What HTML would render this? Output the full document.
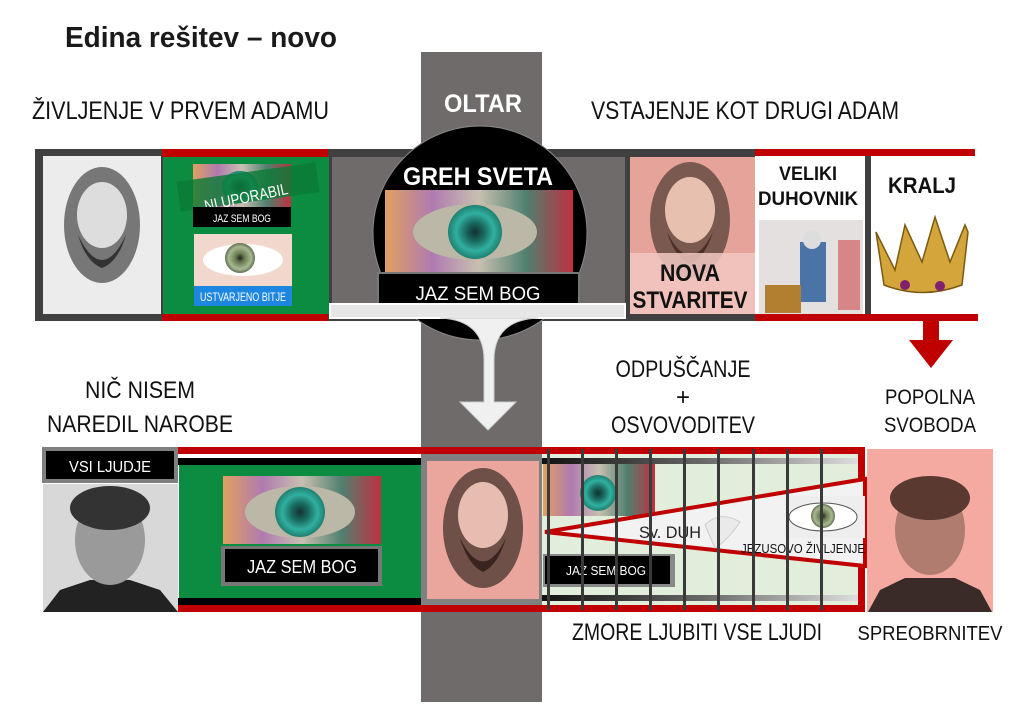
<!DOCTYPE html>
<html><head><meta charset="utf-8"><style>
html,body{margin:0;padding:0;background:#fff;}
svg{display:block;}
text{font-family:"Liberation Sans Narrow","Liberation Sans",sans-serif;}
</style></head><body>
<svg width="1034" height="713" viewBox="0 0 1034 713" xmlns="http://www.w3.org/2000/svg">
<defs>
<linearGradient id="eyeg" x1="0" y1="0" x2="1" y2="0">
<stop offset="0" stop-color="#e0a060"/><stop offset="0.25" stop-color="#b07ab0"/><stop offset="0.5" stop-color="#c8c0b0"/><stop offset="0.75" stop-color="#508070"/><stop offset="1" stop-color="#c03040"/></linearGradient>
<radialGradient id="teal"><stop offset="0" stop-color="#103030"/><stop offset="0.35" stop-color="#1a6a60"/><stop offset="0.7" stop-color="#30b0a0"/><stop offset="1" stop-color="#208070"/></radialGradient>
<radialGradient id="green"><stop offset="0" stop-color="#202020"/><stop offset="0.3" stop-color="#6a7a50"/><stop offset="0.75" stop-color="#a8b890"/><stop offset="1" stop-color="#607050"/></radialGradient>
<linearGradient id="barg" x1="0" x2="1"><stop offset="0" stop-color="#111"/><stop offset="0.5" stop-color="#666"/><stop offset="1" stop-color="#ddd"/></linearGradient>
</defs>

<text x="65" y="47" font-family="Liberation Sans" font-size="29" font-weight="bold" fill="#1a1a1a" textLength="272" lengthAdjust="spacingAndGlyphs">Edina rešitev – novo</text>

<rect x="421" y="52" width="121" height="650" fill="#6f6b6a"/>
<text x="483" y="112" font-size="25" font-weight="bold" fill="#fff" text-anchor="middle" textLength="78" lengthAdjust="spacingAndGlyphs">OLTAR</text>

<text x="32" y="119" font-size="25" fill="#111" textLength="297" lengthAdjust="spacingAndGlyphs">ŽIVLJENJE V PRVEM ADAMU</text>
<text x="591" y="119" font-size="25" fill="#111" textLength="308" lengthAdjust="spacingAndGlyphs">VSTAJENJE KOT DRUGI ADAM</text>

<rect x="35" y="149" width="595" height="172" fill="#404040"/>
<rect x="332" y="157" width="89" height="157" fill="#6f6b6a"/>
<rect x="542" y="157" width="83" height="157" fill="#6f6b6a"/>
<rect x="43" y="156" width="118" height="158" fill="#ececec"/>
<ellipse cx="102" cy="225" rx="38" ry="58" fill="#777"/>
<ellipse cx="102" cy="215" rx="25" ry="33" fill="#ddd"/>
<path d="M78 235 Q102 285 126 235 Q118 262 102 268 Q86 262 78 235Z" fill="#333"/>
<rect x="162" y="149" width="166" height="8" fill="#c00000"/>
<rect x="162" y="314" width="166" height="7" fill="#c00000"/>
<rect x="163" y="157" width="166" height="157" fill="#0b8c41"/>
<rect x="193" y="164" width="98" height="46" fill="url(#eyeg)"/>
<ellipse cx="240" cy="187" rx="18" ry="16" fill="url(#teal)"/>
<rect x="178" y="172" width="140" height="30" fill="#0a7a36" opacity="0.8" transform="rotate(-8 248 187)"/>
<text x="203" y="204" font-size="16" fill="#fff" transform="rotate(-12 240 195)" textLength="85" lengthAdjust="spacingAndGlyphs">NI UPORABIL</text>
<rect x="193" y="207" width="98" height="20" fill="#000"/>
<text x="242" y="222" font-size="11" fill="#fff" text-anchor="middle" textLength="58" lengthAdjust="spacingAndGlyphs">JAZ SEM BOG</text>
<rect x="194" y="234" width="98" height="52" fill="#f2d8cc"/>
<ellipse cx="243" cy="260" rx="40" ry="16" fill="#fff"/>
<circle cx="240" cy="258" r="15" fill="url(#green)"/>
<rect x="194" y="286" width="98" height="20" fill="#1c86e0"/>
<text x="243" y="301" font-size="12" fill="#fff" text-anchor="middle" textLength="86" lengthAdjust="spacingAndGlyphs">USTVARJENO  BITJE</text>

<rect x="625" y="149" width="132" height="172" fill="#404040"/>
<rect x="630" y="157" width="125" height="157" fill="#e6a39a"/>
<ellipse cx="690" cy="220" rx="40" ry="58" fill="#7a5a50"/>
<ellipse cx="690" cy="210" rx="25" ry="33" fill="#e8c0b0"/>
<path d="M667 232 Q690 278 713 232 Q705 258 690 264 Q675 258 667 232Z" fill="#4a3028"/>
<rect x="630" y="253" width="125" height="61" fill="#f2c8c2" opacity="0.85"/>
<text x="690" y="281" font-size="24" font-weight="bold" fill="#111" text-anchor="middle" textLength="60" lengthAdjust="spacingAndGlyphs">NOVA</text>
<text x="690" y="308" font-size="24" font-weight="bold" fill="#111" text-anchor="middle" textLength="115" lengthAdjust="spacingAndGlyphs">STVARITEV</text>
<rect x="755" y="149" width="220" height="7" fill="#c00000"/>
<rect x="755" y="314" width="223" height="7" fill="#c00000"/>
<rect x="755" y="156" width="110" height="158" fill="#fff"/>
<rect x="865" y="156" width="6" height="158" fill="#404040"/>
<text x="808" y="180" font-size="19" font-weight="bold" fill="#111" text-anchor="middle" textLength="58" lengthAdjust="spacingAndGlyphs">VELIKI</text>
<text x="808" y="205" font-size="19" font-weight="bold" fill="#111" text-anchor="middle" textLength="100" lengthAdjust="spacingAndGlyphs">DUHOVNIK</text>
<rect x="759" y="220" width="104" height="94" fill="#e4e0e0"/>
<rect x="838" y="240" width="22" height="70" fill="#d06060" opacity="0.7"/>
<rect x="800" y="242" width="26" height="60" fill="#4a74a8"/>
<circle cx="812" cy="240" r="9" fill="#ddd"/>
<rect x="765" y="285" width="36" height="28" fill="#b08030"/>
<text x="922" y="193" font-size="22" font-weight="bold" fill="#111" text-anchor="middle" textLength="68" lengthAdjust="spacingAndGlyphs">KRALJ</text>
<path d="M876 232 L895 270 L905 225 L922 262 L935 217 L950 262 L965 225 L968 232 L962 285 Q922 300 884 285Z" fill="#d4a53a" stroke="#7a5a10" stroke-width="1.5"/>
<circle cx="905" cy="285" r="5" fill="#802070"/><circle cx="940" cy="286" r="5" fill="#802070"/>

<rect x="923" y="321" width="16" height="20" fill="#c00000"/>
<path d="M909 340 L953 340 L931 368Z" fill="#c00000"/>

<circle cx="480" cy="233" r="107" fill="#000" stroke="#888" stroke-width="1"/>
<text x="478" y="185" font-size="25" font-weight="bold" fill="#fff" text-anchor="middle" textLength="150" lengthAdjust="spacingAndGlyphs">GREH SVETA</text>
<rect x="385" y="190" width="188" height="82" fill="url(#eyeg)"/>
<ellipse cx="475" cy="232" rx="62" ry="28" fill="#bbb8a8"/>
<circle cx="475" cy="232" r="27" fill="url(#teal)"/>
<rect x="378" y="273" width="201" height="33" fill="#000" stroke="#777" stroke-width="2"/>
<text x="478" y="300" font-size="19" fill="#fff" text-anchor="middle" textLength="125" lengthAdjust="spacingAndGlyphs">JAZ SEM BOG</text>

<rect x="330" y="304" width="295" height="14" fill="#e6e6e6" stroke="#fff" stroke-width="2"/>
<path d="M440 318 Q484 320 484 360 L484 402 L460 402 L488 430 L516 402 L494 402 L494 360 Q494 320 538 318Z" fill="#f0f0f0" stroke="#ccc" stroke-width="1"/>

<text x="140" y="398" font-size="24" fill="#111" text-anchor="middle" textLength="110" lengthAdjust="spacingAndGlyphs">NIČ NISEM</text>
<text x="140" y="432" font-size="24" fill="#111" text-anchor="middle" textLength="186" lengthAdjust="spacingAndGlyphs">NAREDIL NAROBE</text>
<text x="683" y="377" font-size="24" fill="#111" text-anchor="middle" textLength="135" lengthAdjust="spacingAndGlyphs">ODPUŠČANJE</text>
<text x="683" y="405" font-size="24" fill="#111" text-anchor="middle">+</text>
<text x="683" y="433" font-size="24" fill="#111" text-anchor="middle" textLength="144" lengthAdjust="spacingAndGlyphs">OSVOVODITEV</text>
<text x="930" y="404" font-size="21" fill="#111" text-anchor="middle" textLength="90" lengthAdjust="spacingAndGlyphs">POPOLNA</text>
<text x="930" y="432" font-size="21" fill="#111" text-anchor="middle" textLength="92" lengthAdjust="spacingAndGlyphs">SVOBODA</text>

<rect x="178" y="447" width="687" height="7" fill="#c00000"/>
<rect x="178" y="605" width="687" height="7" fill="#c00000"/>
<rect x="858" y="447" width="7" height="165" fill="#c00000"/>
<rect x="42" y="447" width="136" height="36" fill="#808080"/>
<rect x="46" y="451" width="128" height="28" fill="#000"/>
<text x="110" y="472" font-size="16" fill="#fff" text-anchor="middle" textLength="82" lengthAdjust="spacingAndGlyphs">VSI  LJUDJE</text>
<rect x="43" y="484" width="135" height="128" fill="#d8d8d8"/>
<path d="M43 612 L60 590 L90 580 L130 580 L160 590 L178 612Z" fill="#222"/>
<ellipse cx="110" cy="540" rx="35" ry="45" fill="#9a9a9a"/>
<ellipse cx="110" cy="508" rx="40" ry="22" fill="#333"/>
<rect x="178" y="458" width="245" height="7" fill="#000"/>
<rect x="178" y="598" width="245" height="7" fill="#000"/>
<rect x="179" y="465" width="242" height="133" fill="#0b8c41"/>
<rect x="223" y="476" width="158" height="68" fill="url(#eyeg)"/>
<ellipse cx="300" cy="512" rx="55" ry="26" fill="#bbb8a8"/>
<circle cx="300" cy="512" r="25" fill="url(#teal)"/>
<rect x="221" y="546" width="161" height="40" fill="#777"/>
<rect x="225" y="549" width="153" height="33" fill="#000"/>
<text x="302" y="573" font-size="18" fill="#fff" text-anchor="middle" textLength="110" lengthAdjust="spacingAndGlyphs">JAZ SEM BOG</text>
<rect x="421" y="454" width="121" height="151" fill="#808080"/>
<rect x="427" y="461" width="112" height="138" fill="#eaa59c"/>
<ellipse cx="483" cy="528" rx="40" ry="60" fill="#6e5048"/>
<ellipse cx="483" cy="515" rx="25" ry="33" fill="#e6bdb0"/>
<path d="M460 538 Q483 585 506 538 Q498 565 483 572 Q468 565 460 538Z" fill="#3a2420"/>
<rect x="542" y="454" width="316" height="151" fill="#e0eedb"/>
<rect x="542" y="458" width="316" height="6" fill="url(#barg)"/>
<rect x="542" y="595" width="316" height="6" fill="url(#barg)"/>
<rect x="543" y="464" width="112" height="52" fill="url(#eyeg)"/>
<circle cx="598" cy="493" r="18" fill="url(#teal)"/>
<rect x="543" y="554" width="132" height="33" fill="#888"/>
<rect x="545" y="556" width="125" height="28" fill="#000"/>
<text x="606" y="575" font-size="13" fill="#fff" text-anchor="middle" textLength="80" lengthAdjust="spacingAndGlyphs">JAZ SEM BOG</text>
<path d="M545 532 L865 479 L865 566Z" fill="#f2f2f2" stroke="#c00000" stroke-width="4"/>
<rect x="785" y="496" width="80" height="42" fill="#eee"/>
<ellipse cx="823" cy="517" rx="34" ry="14" fill="#fff" stroke="#555" stroke-width="1"/>
<circle cx="823" cy="516" r="12" fill="url(#green)"/>
<path d="M705 525 Q720 510 740 522 Q728 540 715 548Z" fill="#eaeaea" stroke="#ccc"/>
<text x="639" y="538" font-size="17" fill="#222" textLength="62" lengthAdjust="spacingAndGlyphs">Sv. DUH</text>
<text x="741" y="553" font-size="13" fill="#111" textLength="124" lengthAdjust="spacingAndGlyphs">JEZUSOVO ŽIVLJENJE</text>
<g fill="#3a3a3a">
<rect x="547" y="449" width="3" height="161"/><rect x="581" y="449" width="3" height="161"/><rect x="615" y="449" width="3" height="161"/><rect x="649" y="449" width="3" height="161"/><rect x="683" y="449" width="3" height="161"/><rect x="717" y="449" width="3" height="161"/><rect x="752" y="449" width="3" height="161"/><rect x="786" y="449" width="3" height="161"/><rect x="820" y="449" width="3" height="161"/>
</g>
<rect x="867" y="449" width="126" height="163" fill="#f4aaa0"/>
<path d="M868 612 L880 590 L905 578 L955 578 L980 590 L992 612Z" fill="#3a2a28"/>
<ellipse cx="930" cy="530" rx="35" ry="45" fill="#b07c70"/>
<ellipse cx="930" cy="498" rx="40" ry="22" fill="#5a3a30"/>

<text x="697" y="640" font-size="24" fill="#111" text-anchor="middle" textLength="250" lengthAdjust="spacingAndGlyphs">ZMORE LJUBITI VSE LJUDI</text>
<text x="930" y="640" font-size="20" fill="#111" text-anchor="middle" textLength="145" lengthAdjust="spacingAndGlyphs">SPREOBRNITEV</text>
</svg>
</body></html>
